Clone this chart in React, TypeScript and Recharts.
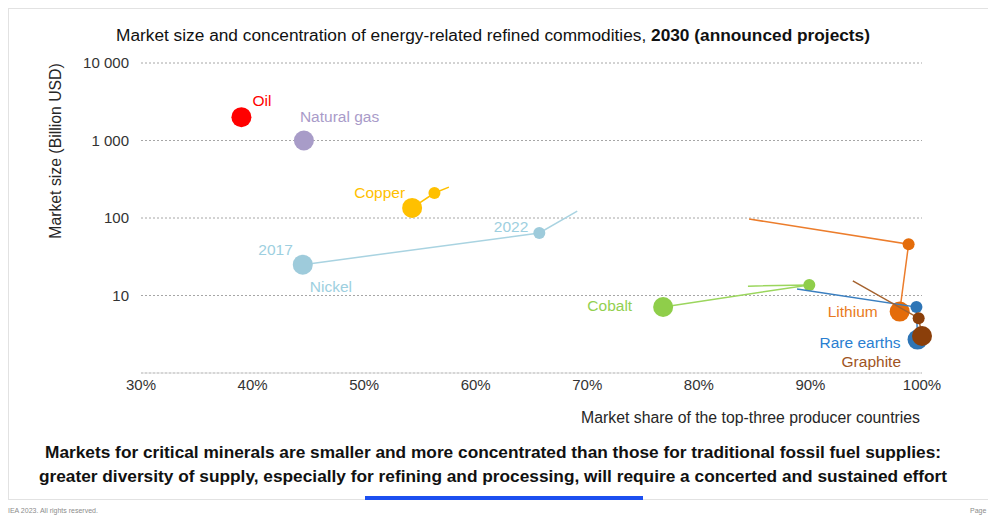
import { ScatterChart, Scatter, XAxis, YAxis, CartesianGrid } from "recharts";

// values; big dot = 2017, small dot = 2022, line end = 2030
const commodities = ["Oil", "Natural gas", "Copper", "Nickel", "Cobalt", "Lithium", "Rare earths", "Graphite"];
const share2017 = [39.0, 44.6, 54.3, 44.5, 76.8, 98.0, 99.6, 100];
const size2017 = [2000, 1000, 135, 25, 7.1, 6.2, 2.7, 3.0];
const share2022 = [null, null, 56.3, 65.7, 89.9, 98.8, 99.5, 99.7];
const size2022 = [null, null, 210, 64, 13.7, 46, 7.1, 5.1];
const share2030 = [null, null, 57.6, 69.1, 84.4, 84.5, 88.8, 93.8];
const size2030 = [null, null, 250, 123, 13.2, 97, 12.1, 15.4];

const xTicks = [30, 40, 50, 60, 70, 80, 90, 100];
const yTicks = [10, 100, 1000, 10000];

const FONT = '"Liberation Sans", Arial, Helvetica, sans-serif';

const dotColors: Record<string, string> = {
  Oil: "#ff0000",
  "Natural gas": "#a89cc8",
  Copper: "#ffc000",
  Nickel: "#9ecbdb",
  Cobalt: "#8fce4a",
  Lithium: "#e46c0a",
  "Rare earths": "#2e75b6",
  Graphite: "#8b3f0a",
};
const lineColors: Record<string, string> = {
  Copper: "#ffc000",
  Nickel: "#a9d3e1",
  Cobalt: "#9bd65d",
  Lithium: "#ec7d2c",
  "Rare earths": "#3a7fc0",
  Graphite: "#a5622e",
};
const labelColors: Record<string, string> = {
  Oil: "#ff0000",
  "Natural gas": "#a99bc9",
  Copper: "#ffc000",
  Nickel: "#9dcfe0",
  Cobalt: "#92d050",
  Lithium: "#e97a20",
  "Rare earths": "#2a7fd1",
  Graphite: "#a0541e",
};
// label placement relative to the 2017 dot
const labelPos: Record<string, { dx: number; dy: number; anchor: string }> = {
  Oil: { dx: 11, dy: -17, anchor: "start" },
  "Natural gas": { dx: -4, dy: -24, anchor: "start" },
  Copper: { dx: -7, dy: -15, anchor: "end" },
  Nickel: { dx: 7, dy: 22, anchor: "start" },
  Cobalt: { dx: -31, dy: -2, anchor: "end" },
  Lithium: { dx: -22, dy: 0, anchor: "end" },
  "Rare earths": { dx: -17, dy: 3, anchor: "end" },
  Graphite: { dx: -21, dy: 25, anchor: "end" },
};

const fmt = (v: number) => String(v).replace(/\B(?=(\d{3})+(?!\d))/g, " ");

const series = commodities.map((name, i) => {
  const pts = [
    { x: share2017[i], y: size2017[i], year: "2017" },
    { x: share2022[i], y: size2022[i], year: "2022" },
    { x: share2030[i], y: size2030[i], year: "2030" },
  ].filter((p) => p.x != null && p.y != null);
  return { name, pts };
});

const txt = { fontFamily: FONT, fontSize: 15.5 };

export default function App() {
  return (
    <div style={{ position: "absolute", left: 0, top: 0, width: 988, height: 518, background: "#fff", fontFamily: FONT, overflow: "hidden" }}>
      <div style={{ position: "absolute", left: 8, top: 8, width: 1000, height: 490, border: "1px solid #e2e2e2" }} />
      <div style={{ position: "absolute", left: 0, top: 25, width: 986, textAlign: "center", fontSize: 17.3, color: "#111" }}>
        Market size and concentration of energy-related refined commodities, <b>2030 (announced projects)</b>
      </div>
      <div
        style={{
          position: "absolute",
          left: 56,
          top: 151,
          transform: "translate(-50%, -50%) rotate(-90deg)",
          whiteSpace: "nowrap",
          fontSize: 15.8,
          color: "#262626",
        }}
      >
        Market size (Billion USD)
      </div>
      <div style={{ position: "absolute", right: 988 - 920, top: 409, fontSize: 15.8, color: "#262626", whiteSpace: "nowrap" }}>
        Market share of the top-three producer countries
      </div>

      <div style={{ position: "absolute", left: 0, top: 0 }}>
        <ScatterChart width={988} height={400} margin={{ top: 63, right: 66, left: 61, bottom: 0 }}>
          <CartesianGrid vertical={false} stroke="#a6a6a6" strokeDasharray="2 2" />
          <XAxis
            type="number"
            dataKey="x"
            domain={[30, 100]}
            ticks={xTicks}
            tickFormatter={(v: number) => `${v}%`}
            tickLine={false}
            tickSize={0}
            tickMargin={6}
            height={27}
            axisLine={{ stroke: "#d9d9d9" }}
            tick={{ fill: "#333", fontSize: 15, fontFamily: FONT }}
          />
          <YAxis
            type="number"
            dataKey="y"
            scale="log"
            domain={[1, 10000]}
            ticks={yTicks}
            tickFormatter={fmt}
            axisLine={false}
            tickLine={false}
            tickSize={0}
            tickMargin={12}
            width={80}
            tick={{ fill: "#333", fontSize: 15, fontFamily: FONT }}
          />
          {series.flatMap((s) => {
            const out = [];
            if (s.pts.length > 1) {
              out.push(
                <Scatter
                  key={s.name + "-line"}
                  data={s.pts}
                  line={{ stroke: lineColors[s.name], strokeWidth: 1.5 }}
                  shape={() => <g />}
                  isAnimationActive={false}
                />
              );
              out.push(
                <Scatter
                  key={s.name + "-2022"}
                  data={s.pts.filter((p) => p.year === "2022")}
                  isAnimationActive={false}
                  shape={(p: any) => (
                    <g>
                      <circle cx={p.cx} cy={p.cy} r={6} fill={dotColors[s.name]} />
                      {s.name === "Nickel" && (
                        <text x={p.cx - 11} y={p.cy - 7} textAnchor="end" dominantBaseline="central" fill={labelColors.Nickel} style={txt}>
                          2022
                        </text>
                      )}
                    </g>
                  )}
                />
              );
            }
            const lp = labelPos[s.name];
            out.push(
              <Scatter
                key={s.name + "-2017"}
                data={s.pts.filter((p) => p.year === "2017")}
                isAnimationActive={false}
                shape={(p: any) => (
                  <g>
                    <circle cx={p.cx} cy={p.cy} r={10} fill={dotColors[s.name]} />
                    <text
                      x={p.cx + lp.dx}
                      y={p.cy + lp.dy}
                      textAnchor={lp.anchor as any}
                      dominantBaseline="central"
                      fill={labelColors[s.name]}
                      style={txt}
                    >
                      {s.name}
                    </text>
                    {s.name === "Nickel" && (
                      <text x={p.cx - 10} y={p.cy - 15} textAnchor="end" dominantBaseline="central" fill={labelColors.Nickel} style={txt}>
                        2017
                      </text>
                    )}
                  </g>
                )}
              />
            );
            return out;
          })}
        </ScatterChart>
      </div>

      <div style={{ position: "absolute", left: 0, top: 440, width: 986, textAlign: "center", fontSize: 17.3, fontWeight: "bold", lineHeight: "24px", color: "#111" }}>
        Markets for critical minerals are smaller and more concentrated than those for traditional fossil fuel supplies:
        <br />
        greater diversity of supply, especially for refining and processing, will require a concerted and sustained effort
      </div>
      <div style={{ position: "absolute", left: 365, top: 496, width: 278, height: 4, background: "#1c4ff0" }} />
      <div style={{ position: "absolute", left: 8, top: 507, fontSize: 7, color: "#8c8c8c" }}>IEA 2023. All rights reserved.</div>
      <div style={{ position: "absolute", left: 970, top: 507, fontSize: 7, color: "#8c8c8c" }}>Page</div>
    </div>
  );
}
